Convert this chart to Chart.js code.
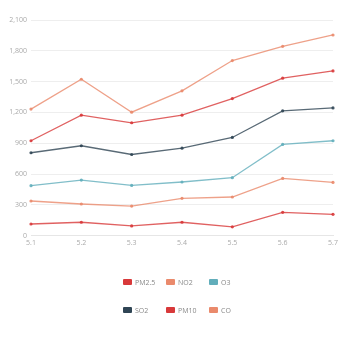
<!DOCTYPE html>
<html>
<head>
<meta charset="utf-8">
<script src="https://cdn.jsdelivr.net/npm/chart.js@4/dist/chart.umd.min.js"></script>
<style>
  html, body { margin: 0; padding: 0; background: #fff; }
  #wrap { position: relative; width: 350px; height: 350px; }
  #c { position: absolute; left: 0; top: 0; }
  .lg { position: absolute; font: 7px "Open Sans", sans-serif; color: #888; white-space: nowrap; line-height: 8px; }
  .lg i { display: inline-block; width: 9px; height: 6px; border-radius: 1px; vertical-align: middle; margin-right: 3px; position: relative; top: -1px; }
</style>
</head>
<body>
<div id="wrap"><canvas id="c" width="350" height="350"></canvas></div>
<script>
const categories = ["5.1", "5.2", "5.3", "5.4", "5.5", "5.6", "5.7"];
const yTicks = [0, 300, 600, 900, 1200, 1500, 1800, 2100];
const seriesNames = ["PM2.5", "NO2", "O3", "SO2", "PM10", "CO"];
const seriesColors = ["#d8393a", "#ea8a6c", "#62aebb", "#2f4554", "#d8393a", "#ea8a6c"];
const pm25 = [113, 130, 94, 130, 85, 227, 207];
const no2 = [337, 308, 288, 363, 376, 557, 518];
const o3 = [486, 541, 489, 522, 564, 888, 924];
const so2 = [807, 875, 790, 852, 956, 1215, 1244];
const pm10 = [924, 1173, 1099, 1173, 1335, 1533, 1604];
const co = [1232, 1523, 1202, 1410, 1705, 1844, 1954];
const seriesValues = [pm25, no2, o3, so2, pm10, co];

function withAlpha(hex, a) {
  const n = parseInt(hex.slice(1), 16);
  return `rgba(${(n >> 16) & 255},${(n >> 8) & 255},${n & 255},${a})`;
}

const datasets = seriesNames.map((name, i) => ({
  label: name,
  data: seriesValues[i],
  borderColor: withAlpha(seriesColors[i], 0.8),
  backgroundColor: withAlpha(seriesColors[i], 0.9),
  borderWidth: 1.3,
  pointRadius: 1.6,
  pointHoverRadius: 2,
  pointBorderWidth: 0,
  tension: 0,
  fill: false
}));

const chart = new Chart(document.getElementById("c"), {
  type: "line",
  data: { labels: categories, datasets },
  options: {
    responsive: false,
    animation: false,
    devicePixelRatio: 1,
    layout: { padding: { left: 0, right: 17, top: 20, bottom: 100 } },
    plugins: { legend: { display: false }, tooltip: { enabled: false } },
    scales: {
      x: {
        offset: false,
        grid: { display: false, drawTicks: false },
        border: { display: true, color: "#e6e6e6" },
        ticks: { color: "#aaa", font: { family: "Open Sans", size: 7 }, padding: 3, maxRotation: 0, autoSkip: false }
      },
      y: {
        min: 0, max: 2100,
        afterBuildTicks: (s) => { s.ticks = yTicks.map(v => ({ value: v })); },
        afterFit: (s) => { s.width = 31; },
        grid: { color: "#eeeeee", lineWidth: 1, drawTicks: false },
        border: { display: false },
        ticks: {
          color: "#aaa", font: { family: "Open Sans", size: 7 }, padding: 4,
          callback: (v) => v.toLocaleString("en-US")
        }
      }
    }
  }
});

// HTML legend, 3 columns x 2 rows
const wrap = document.getElementById("wrap");
const colX = [123, 166, 209];
const rowY = [279, 307];
seriesNames.forEach((name, i) => {
  const d = document.createElement("div");
  d.className = "lg";
  d.style.left = colX[i % 3] + "px";
  d.style.top = rowY[Math.floor(i / 3)] + "px";
  const b = document.createElement("i");
  b.style.background = seriesColors[i];
  d.appendChild(b);
  d.appendChild(document.createTextNode(name));
  wrap.appendChild(d);
});
</script>
</body>
</html>
